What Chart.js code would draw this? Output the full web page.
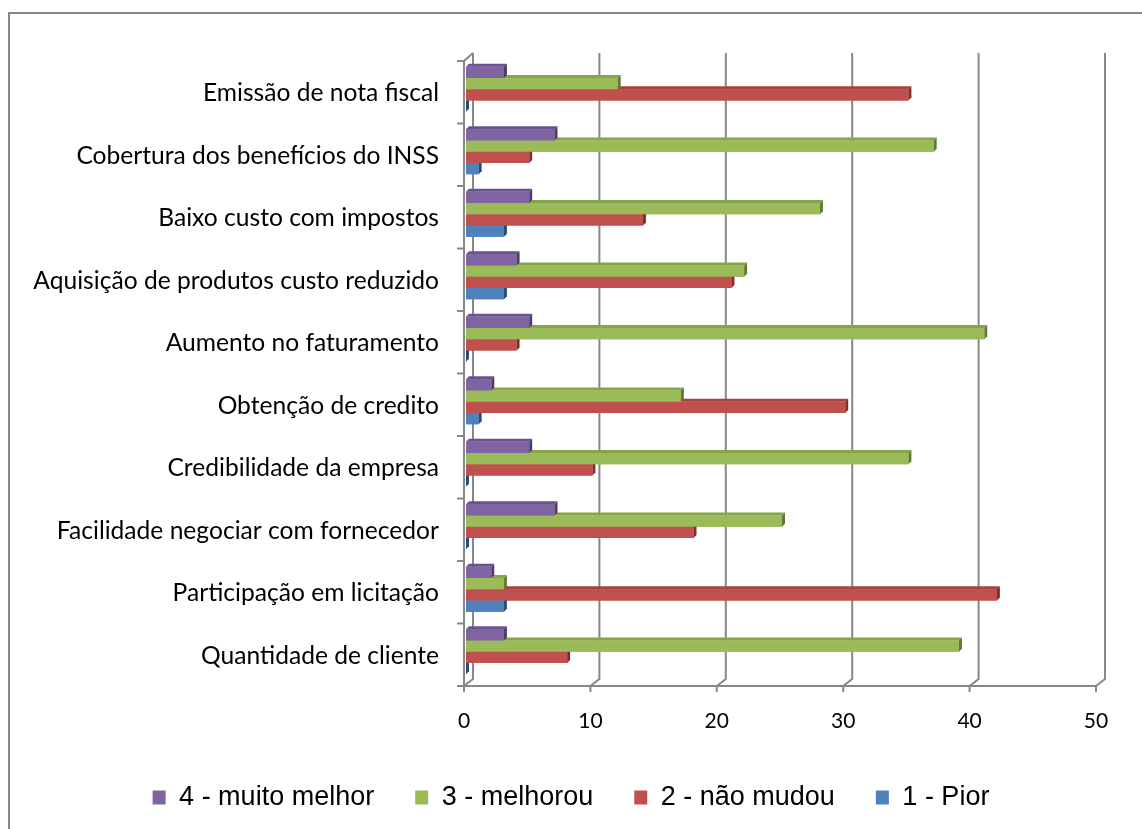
<!DOCTYPE html>
<html>
<head>
<meta charset="utf-8">
<script src="https://cdn.jsdelivr.net/npm/chart.js@4"></script>
<style>
    body { margin: 0; background: #fff; }
    #wrap { width: 1142px; height: 829px; }
</style>
</head>
<body>
<div id="wrap"><canvas id="chart" width="1142" height="829"></canvas></div>
<script>
// Data
const categories = [
    'Emissão de nota fiscal',
    'Cobertura dos benefícios do INSS',
    'Baixo custo com impostos',
    'Aquisição de produtos custo reduzido',
    'Aumento no faturamento',
    'Obtenção de credito',
    'Credibilidade da empresa',
    'Facilidade negociar com fornecedor',
    'Participação em licitação',
    'Quantidade de cliente'
];
const muitoMelhor = [3, 7, 5, 4, 5, 2, 5, 7, 2, 3];
const melhorou = [12, 37, 28, 22, 41, 17, 35, 25, 3, 39];
const naoMudou = [35, 5, 14, 21, 4, 30, 10, 18, 42, 8];
const pior = [0, 1, 3, 3, 0, 1, 0, 0, 3, 0];
const xTicks = [0, 10, 20, 30, 40, 50];

const seriesNames = ['4 - muito melhor', '3 - melhorou', '2 - não mudou', '1 - Pior'];
const faceColors = ['#8064A2', '#9BBB59', '#C0504D', '#4F81BD'];
const topColors = ['#6A5290', '#86A44A', '#A9413F', '#3F6DA6'];
const sideColors = ['#4E3C66', '#637A33', '#7E2F2D', '#2C4C78'];

const gray = '#878787';
const depth = 3;

// white background and the outer frame (top and left only)
const framePlugin = {
    id: 'frame',
    afterLayout(chart) {
        // centre the legend on the whole canvas, not on the plot
        chart.legend.right = chart.width;
    },
    beforeDraw(chart) {
        const ctx = chart.ctx;
        ctx.save();
        ctx.fillStyle = '#fff';
        ctx.fillRect(0, 0, chart.width, chart.height);
        ctx.strokeStyle = gray;
        ctx.lineWidth = 2;
        ctx.beginPath();
        ctx.moveTo(9, chart.height);
        ctx.lineTo(9, 13);
        ctx.lineTo(chart.width, 13);
        ctx.stroke();
        ctx.restore();
    }
};

// back wall gridlines, floor edge and axes drawn like the 3D Excel chart
const wallPlugin = {
    id: 'wall',
    beforeDatasetsDraw(chart) {
        const ctx = chart.ctx;
        const ca = chart.chartArea;
        const xs = chart.scales.x;
        const ys = chart.scales.y;
        const backTop = ca.top - 5;
        const backBottom = ca.bottom - 4;
        const frontY = ca.bottom + 3;
        const frontLeft = ca.left - 2;
        const frontTop = ca.top + 3;
        ctx.save();
        ctx.strokeStyle = gray;
        ctx.lineWidth = 2;
        ctx.beginPath();
        xTicks.forEach(v => {
            const px = xs.getPixelForValue(v);
            ctx.moveTo(px + 7, backTop);
            ctx.lineTo(px + 7, backBottom);
            ctx.lineTo(px - 2, frontY);
            ctx.moveTo(px - 2, frontY);
            ctx.lineTo(px - 2, frontY + 6);
        });
        // front x axis
        ctx.moveTo(frontLeft - 7, frontY);
        ctx.lineTo(xs.getPixelForValue(xTicks[xTicks.length - 1]) - 2, frontY);
        // front y axis
        ctx.moveTo(frontLeft, frontTop);
        ctx.lineTo(frontLeft, frontY + 5);
        ctx.moveTo(frontLeft, frontTop);
        ctx.lineTo(xs.getPixelForValue(0) + 7, backTop);
        for (let k = 0; k <= categories.length; k++) {
            const y = ys.getPixelForValue(k - 0.5) + 3;
            ctx.moveTo(frontLeft - 7, y);
            ctx.lineTo(frontLeft, y);
        }
        ctx.stroke();
        ctx.restore();
    },
    afterDatasetsDraw(chart) {
        const ctx = chart.ctx;
        ctx.save();
        for (let d = chart.data.datasets.length - 1; d >= 0; d--) {
            const meta = chart.getDatasetMeta(d);
            meta.data.forEach(bar => {
                const left = Math.min(bar.base, bar.x);
                const right = Math.max(bar.base, bar.x);
                const top = bar.y - bar.height / 2;
                const bottom = bar.y + bar.height / 2;
                // top face
                ctx.fillStyle = topColors[d];
                ctx.beginPath();
                ctx.moveTo(left, top);
                ctx.lineTo(left + depth, top - depth);
                ctx.lineTo(right + depth, top - depth);
                ctx.lineTo(right, top);
                ctx.closePath();
                ctx.fill();
                // side face
                ctx.fillStyle = sideColors[d];
                ctx.beginPath();
                ctx.moveTo(right, top);
                ctx.lineTo(right + depth, top - depth);
                ctx.lineTo(right + depth, bottom - depth);
                ctx.lineTo(right, bottom);
                ctx.closePath();
                ctx.fill();
                // front face again on top
                ctx.fillStyle = faceColors[d];
                ctx.fillRect(left, top, right - left, bottom - top);
            });
        }
        ctx.restore();
    }
};

const seriesData = [muitoMelhor, melhorou, naoMudou, pior];

const chart = new Chart(document.getElementById('chart'), {
    type: 'bar',
    data: {
        labels: categories,
        datasets: seriesData.map((values, i) => ({
            label: seriesNames[i],
            data: values,
            backgroundColor: faceColors[i],
            borderWidth: 0,
            categoryPercentage: 0.72,
            barPercentage: 1
        }))
    },
    options: {
        indexAxis: 'y',
        responsive: false,
        animation: false,
        layout: {
            padding: { top: 58, right: 44, left: 0, bottom: 8 }
        },
        scales: {
            x: {
                min: 0,
                max: 50,
                afterFit: scale => { scale.height = 60; },
                afterBuildTicks: scale => {
                    scale.ticks = xTicks.map(v => ({ value: v }));
                },
                grid: { display: false },
                border: { display: false },
                ticks: {
                    color: '#000',
                    padding: 18,
                    labelOffset: -2,
                    font: { family: 'Lato', size: 21 }
                }
            },
            y: {
                afterFit: scale => { scale.width = 466; },
                grid: { display: false },
                border: { display: false },
                ticks: {
                    color: '#000',
                    padding: 19,
                    labelOffset: 4,
                    font: { family: 'Lato', size: 24.6 }
                }
            }
        },
        plugins: {
            legend: {
                position: 'bottom',
                labels: {
                    color: '#000',
                    boxWidth: 13,
                    boxHeight: 14,
                    padding: 41,
                    font: { family: 'Liberation Sans', size: 27 }
                }
            },
            tooltip: { enabled: false }
        }
    },
    plugins: [framePlugin, wallPlugin]
});
</script>
</body>
</html>
